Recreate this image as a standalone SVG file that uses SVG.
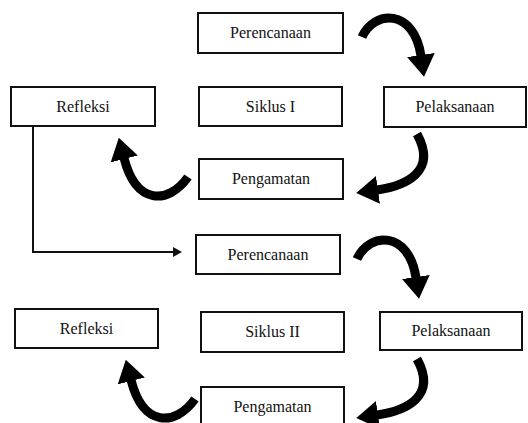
<svg xmlns="http://www.w3.org/2000/svg" width="528" height="423" viewBox="0 0 528 423">
<style>
.box{fill:#fff;stroke:#111;stroke-width:2}
.lbl{font-family:"Liberation Serif","Times New Roman",serif;font-size:16px;fill:#111;text-anchor:middle}
.curve{fill:none;stroke:#000;stroke-width:9;marker-end:url(#bighead)}
.line{fill:none;stroke:#111;stroke-width:2;marker-end:url(#smallhead)}
</style>
<defs>
<marker id="bighead" viewBox="0 -14 22 28" markerWidth="22" markerHeight="28" refX="1" refY="0" orient="auto" markerUnits="userSpaceOnUse">
<path d="M0,-14 L22,0 L0,14 z" fill="#000"/>
</marker>
<marker id="smallhead" viewBox="0 -5 9 10" markerWidth="9" markerHeight="10" refX="1" refY="0" orient="auto" markerUnits="userSpaceOnUse">
<path d="M0,-5 L9,0 L0,5 z" fill="#111"/>
</marker>
</defs>
<rect width="528" height="423" fill="#fff"/>
<g id="connectors">
<path class="curve" d="M362,37 C374,10 414,8 421,56"/>
<path class="curve" d="M417,134 C438,172 405,186 377,190"/>
<path class="curve" d="M188,177 C168,205 136,205 124,158"/>
<path class="curve" d="M357,259 C369,232 409,230 416,278"/>
<path class="curve" d="M417,359 C438,397 405,411 377,415"/>
<path class="curve" d="M195,399 C175,427 143,427 131,380"/>
<path class="line" d="M33,126 V252 H174"/>
</g>
<g id="perencanaan1"><rect class="box" x="198" y="13" width="145" height="40"/><text class="lbl" x="270.5" y="38">Perencanaan</text></g>
<g id="refleksi1"><rect class="box" x="11" y="87" width="144" height="39"/><text class="lbl" x="83" y="112">Refleksi</text></g>
<g id="siklus1"><rect class="box" x="199" y="87" width="143" height="39"/><text class="lbl" x="270.5" y="112">Siklus I</text></g>
<g id="pelaksanaan1"><rect class="box" x="384" y="87" width="142" height="40"/><text class="lbl" x="455" y="112">Pelaksanaan</text></g>
<g id="pengamatan1"><rect class="box" x="199" y="159" width="144" height="40"/><text class="lbl" x="271" y="184">Pengamatan</text></g>
<g id="perencanaan2"><rect class="box" x="196" y="235" width="144" height="39"/><text class="lbl" x="268" y="260">Perencanaan</text></g>
<g id="refleksi2"><rect class="box" x="15" y="309" width="143" height="39"/><text class="lbl" x="86.5" y="334">Refleksi</text></g>
<g id="siklus2"><rect class="box" x="201" y="312" width="143" height="40"/><text class="lbl" x="272.5" y="337">Siklus II</text></g>
<g id="pelaksanaan2"><rect class="box" x="380" y="312" width="142" height="38"/><text class="lbl" x="451" y="336">Pelaksanaan</text></g>
<g id="pengamatan2"><rect class="box" x="201" y="387" width="143" height="40"/><text class="lbl" x="272.5" y="412">Pengamatan</text></g>
</svg>
